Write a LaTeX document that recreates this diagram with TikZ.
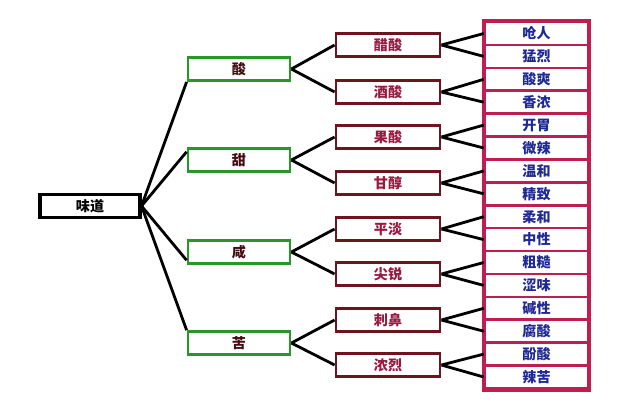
\documentclass[tikz,border=0pt]{standalone}
\usepackage{fontspec}
\setmainfont{Noto Sans CJK SC}
\definecolor{tastegreen}{RGB}{40,150,40}
\definecolor{acidred}{RGB}{110,20,30}
\definecolor{leafred}{RGB}{190,30,80}
\definecolor{leafblue}{RGB}{30,40,150}
\begin{document}
\begin{tikzpicture}[x=0.03cm,y=-0.03cm,
  rootbox/.style={draw=black,line width=2.6pt,minimum width=3cm,minimum height=0.69cm,inner sep=0pt,font=\bfseries\large},
  tastebox/.style={draw=tastegreen,line width=2.4pt,minimum width=3.06cm,minimum height=0.69cm,inner sep=0pt,text=acidred!60!black,font=\bfseries\large},
  acidbox/.style={draw=acidred,line width=2.4pt,minimum width=3.12cm,minimum height=0.69cm,inner sep=0pt,text=leafred!80!black,font=\bfseries\large},
  leafbox/.style={draw=leafred,line width=2.2pt,minimum width=3.09cm,minimum height=0.687cm,inner sep=0pt,text=leafblue,font=\bfseries\large},
  branch/.style={line width=2.4pt}]
\useasboundingbox (0,0) rectangle (628,410);
% root and tastes
\node[rootbox] (root) at (90,206) {味道};
\node[tastebox] (sour) at (239,69) {酸};
\node[tastebox] (sweet) at (239,160) {甜};
\node[tastebox] (salty) at (239,252) {咸};
\node[tastebox] (bitter) at (239,343) {苦};
% acids
\foreach \name/\txt/\yy in {a1/醋酸/45,a2/酒酸/92,a3/果酸/137,a4/甘醇/183,a5/平淡/229,a6/尖锐/274,a7/刺鼻/320,a8/浓烈/365}
  \node[acidbox] (\name) at (388,\yy) {\txt};
% leaves
\foreach \txt [count=\i] in {呛人,猛烈,酸爽,香浓,开胃,微辣,温和,精致,柔和,中性,粗糙,涩味,碱性,腐酸,酚酸,辣苦}
  \node[leafbox] (l\i) at (536.5,{10.6+22.9*\i}) {\txt};
\draw[leafred,line width=3pt] (l1.north west) rectangle (l16.south east);
% connectors
\draw[branch] (root.east) -- (sour.south west);
\draw[branch] (root.east) -- ([yshift=-4pt]sweet.north west);
\draw[branch] (root.east) -- ([yshift=4pt]salty.south west);
\draw[branch] (root.east) -- (bitter.north west);
\draw[branch] (sour.east) -- (a1.west);   \draw[branch] (sour.east) -- (a2.west);
\draw[branch] (sweet.east) -- (a3.west);  \draw[branch] (sweet.east) -- (a4.west);
\draw[branch] (salty.east) -- (a5.west);  \draw[branch] (salty.east) -- (a6.west);
\draw[branch] (bitter.east) -- (a7.west); \draw[branch] (bitter.east) -- (a8.west);
\foreach \j [evaluate=\j as \k using int(2*\j-1), evaluate=\j as \m using int(2*\j)] in {1,...,8}
  \draw[branch] (a\j.east) -- (l\k.west) (a\j.east) -- (l\m.west);
\end{tikzpicture}
\end{document}
